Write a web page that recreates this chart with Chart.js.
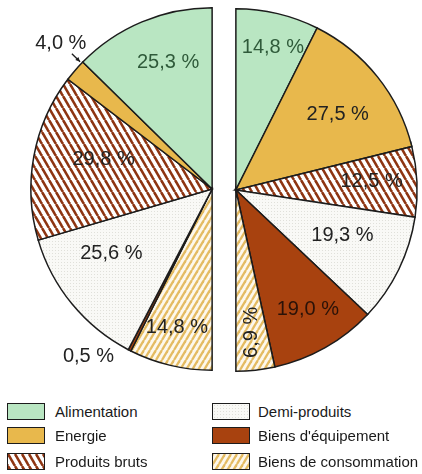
<!DOCTYPE html>
<html>
<head>
<meta charset="utf-8">
<script src="https://cdn.jsdelivr.net/npm/chart.js@4"></script>
<style>
  body { margin: 0; background: #fff; font-family: "Liberation Sans", Arial, sans-serif; }
  #wrap { position: relative; width: 422px; height: 474px; overflow: hidden; }
  canvas.pie { position: absolute; left: 0; top: 0; }
  .item { position: absolute; height: 15px; display: flex; align-items: center; font-size: 15px; color: #1a1a1a; white-space: nowrap; }
  .item canvas { border: 1.5px solid #1c1c1c; box-sizing: border-box; margin-right: 10px; }
</style>
</head>
<body>
<div id="wrap">
  <canvas id="leftPie" class="pie" width="422" height="385"></canvas>
  <canvas id="rightPie" class="pie" width="422" height="385"></canvas>
  <div id="legend"></div>
</div>
<script>
const categories = ["Alimentation", "Energie", "Produits bruts", "Demi-produits", "Biens d'équipement", "Biens de consommation"];
const leftValues = [25.3, 4.0, 29.8, 25.6, 0.5, 14.8];
const rightValues = [14.8, 27.5, 12.5, 19.3, 19.0, 6.9];

// label placement per slice (radius fraction, angle nudge in degrees)
const leftSpots = [
  { r: 0.74, da: 3.6, color: "#2f5a3a" },
  { r: 1.16, da: 3.1, arrow: true },
  { r: 0.62, da: 4.6 },
  { r: 0.66, da: 6.8 },
  { r: 1.15, da: 9.3 },
  { r: 0.79, da: 0.9 }
];
const rightSpots = [
  { r: 0.81, da: 1.3, color: "#2f5a3a" },
  { r: 0.70, da: 2 },
  { r: 0.75, da: -0.8 },
  { r: 0.64, da: -2.7 },
  { r: 0.77, da: -1.5, color: "#2a1208" },
  { r: 0.79, da: 0, rot: -90 }
];

function fmt(v) {
  return v.toFixed(1).replace(".", ",") + " %";
}

function makeTile(w, h, draw) {
  let c = document.createElement("canvas");
  c.width = w;
  c.height = h;
  draw(c.getContext("2d"), w, h);
  return c;
}

function hatchTile(bg, fg, w, h, lw, dir) {
  return makeTile(w, h, (g) => {
    g.fillStyle = bg;
    g.fillRect(0, 0, w, h);
    g.strokeStyle = fg;
    g.lineWidth = lw;
    for (let k = -1; k <= 1; k++) {
      g.beginPath();
      if (dir == "back") {
        g.moveTo(k * w, 0);
        g.lineTo(k * w + w, h);
      } else {
        g.moveTo(k * w, h);
        g.lineTo(k * w + w, 0);
      }
      g.stroke();
    }
  });
}

const tiles = {
  bruts: hatchTile("#ffffff", "#8e3512", 7, 12, 2.6, "back"),
  conso: hatchTile("#fdf8ec", "#e4bb62", 6, 10, 2.3, "fwd"),
  demi: makeTile(3, 3, (g) => {
    g.fillStyle = "#f9f9f6";
    g.fillRect(0, 0, 3, 3);
    g.fillStyle = "#e0e0da";
    g.fillRect(1, 1, 1, 1);
  })
};

function makeFills(ctx) {
  return [
    "#b9e6c2",
    "#e8b84c",
    ctx.createPattern(tiles.bruts, "repeat"),
    ctx.createPattern(tiles.demi, "repeat"),
    "#a8420f",
    ctx.createPattern(tiles.conso, "repeat")
  ];
}

const sliceLabels = {
  id: "sliceLabels",
  afterDatasetsDraw(chart, args, opts) {
    let ctx = chart.ctx;
    let meta = chart.getDatasetMeta(0);
    let order = opts.order;
    ctx.save();
    ctx.font = "20px 'Liberation Sans', Arial, sans-serif";
    ctx.textAlign = "center";
    ctx.textBaseline = "middle";
    meta.data.forEach((arc, j) => {
      let i = order[j];
      let spot = opts.spots[i];
      let R = arc.outerRadius;
      let a = (arc.startAngle + arc.endAngle) / 2 + (spot.da * Math.PI) / 180;
      let x = arc.x + Math.cos(a) * R * spot.r;
      let y = arc.y + Math.sin(a) * R * spot.r;
      ctx.fillStyle = spot.color || "#222";
      ctx.save();
      ctx.translate(x, y);
      if (spot.rot) ctx.rotate((spot.rot * Math.PI) / 180);
      ctx.fillText(fmt(opts.values[i]), 0, 0);
      ctx.restore();
      if (spot.arrow) {
        let x1 = arc.x + Math.cos(a) * R * 1.075;
        let y1 = arc.y + Math.sin(a) * R * 1.075;
        let x2 = arc.x + Math.cos(a) * R * 1.012;
        let y2 = arc.y + Math.sin(a) * R * 1.012;
        ctx.strokeStyle = "#1c1c1c";
        ctx.lineWidth = 1.3;
        ctx.beginPath();
        ctx.moveTo(x1, y1);
        ctx.lineTo(x2, y2);
        ctx.stroke();
        let h = Math.atan2(y2 - y1, x2 - x1);
        ctx.fillStyle = "#1c1c1c";
        ctx.beginPath();
        ctx.moveTo(x2, y2);
        ctx.lineTo(x2 - 5 * Math.cos(h - 0.45), y2 - 5 * Math.sin(h - 0.45));
        ctx.lineTo(x2 - 5 * Math.cos(h + 0.45), y2 - 5 * Math.sin(h + 0.45));
        ctx.closePath();
        ctx.fill();
      }
    });
    ctx.restore();
  }
};

function drawHalf(id, values, spots, reversed, rotation, padding) {
  let canvas = document.getElementById(id);
  let ctx = canvas.getContext("2d");
  let fills = makeFills(ctx);
  let order = categories.map((c, i) => i);
  if (reversed) order.reverse();

  new Chart(ctx, {
    type: "pie",
    data: {
      labels: order.map((i) => categories[i]),
      datasets: [
        {
          data: order.map((i) => values[i]),
          backgroundColor: order.map((i) => fills[i]),
          borderColor: "#1c1c1c",
          borderWidth: 1.5,
          borderJoinStyle: "miter"
        }
      ]
    },
    options: {
      responsive: false,
      animation: false,
      events: [],
      rotation: rotation,
      circumference: 180,
      layout: { padding: padding },
      plugins: {
        legend: { display: false },
        tooltip: { enabled: false },
        sliceLabels: { values: values, spots: spots, order: order }
      }
    },
    plugins: [sliceLabels]
  });
}

drawHalf("leftPie", leftValues, leftSpots, true, 180, { left: 30, top: 7, right: 209, bottom: 14 });
drawHalf("rightPie", rightValues, rightSpots, false, 0, { left: 235, top: 8, right: 4, bottom: 13 });

function loadLegend() {
  let legend = document.getElementById("legend");
  let colLeft = [7, 212];
  let rowTop = [404, 428, 454];
  categories.forEach((name, i) => {
    let item = document.createElement("div");
    item.className = "item";
    item.style.left = colLeft[Math.floor(i / 3)] + "px";
    item.style.top = rowTop[i % 3] + "px";
    let sw = document.createElement("canvas");
    sw.width = 36;
    sw.height = 15;
    if (i >= 3) sw.style.marginRight = "8px";
    let g = sw.getContext("2d");
    g.fillStyle = makeFills(g)[i];
    g.fillRect(0, 0, 36, 15);
    item.appendChild(sw);
    item.appendChild(document.createTextNode(name));
    legend.appendChild(item);
  });
}
loadLegend();
</script>
</body>
</html>
